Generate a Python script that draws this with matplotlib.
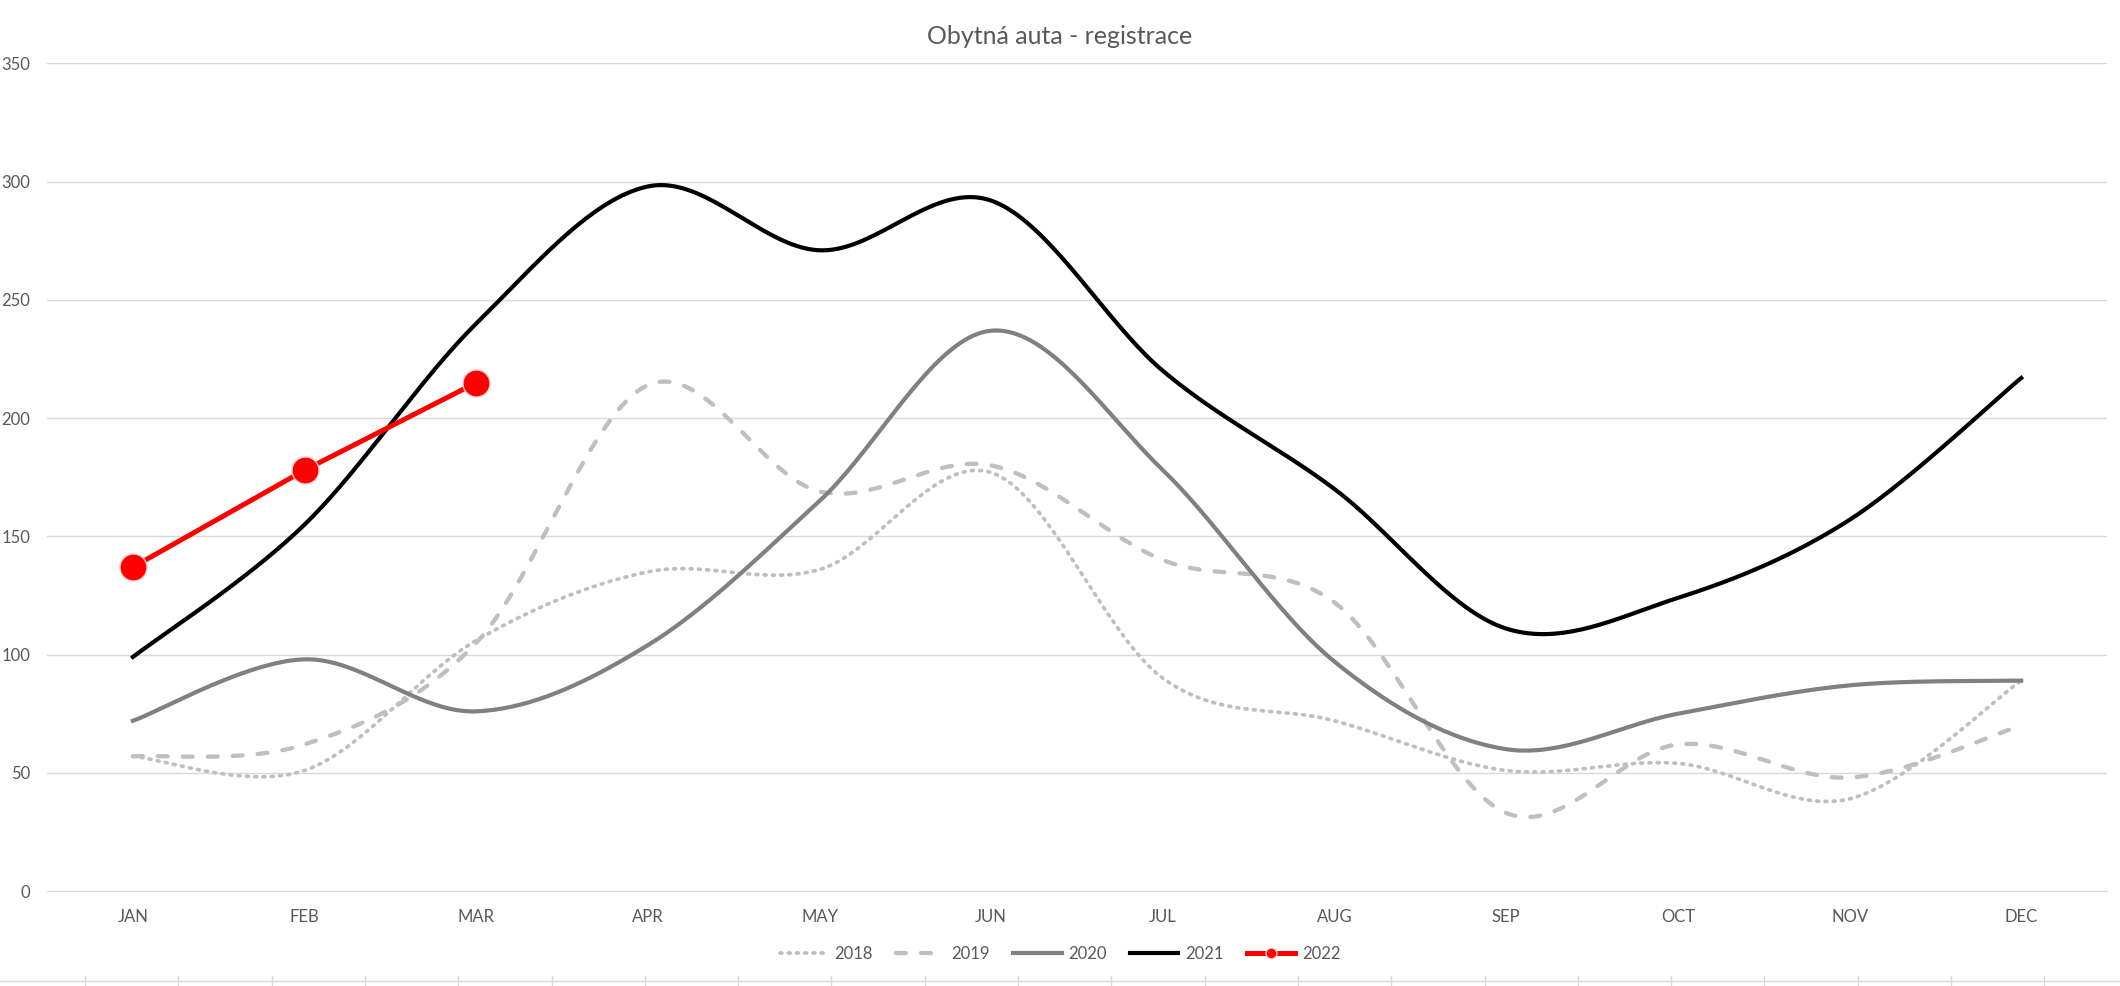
import numpy as np
import matplotlib.pyplot as plt
from matplotlib.lines import Line2D

plt.rcParams['font.family'] = ['Lato', 'DejaVu Sans']

mesice = ["JAN", "FEB", "MAR", "APR", "MAY", "JUN", "JUL", "AUG", "SEP", "OCT", "NOV", "DEC"]
r2018 = [57, 51, 106, 135, 136, 177, 90, 72, 51, 54, 39, 89]
r2019 = [57, 62, 105, 214, 169, 180, 140, 122, 33, 62, 48, 70]
r2020 = [72, 98, 76, 104, 165, 237, 178, 97, 60, 75, 87, 89]
r2021 = [99, 155, 240, 298, 271, 292, 220, 170, 111, 124, 157, 217]
r2022 = [137, 178, 215]


def vyhlad(y):
    # excel-like smoothed line (bezier through points)
    x = np.arange(len(y), dtype=float)
    y = np.asarray(y, dtype=float)
    px = np.concatenate([[x[0]], x, [x[-1]]])
    py = np.concatenate([[y[0]], y, [y[-1]]])
    t = np.linspace(0, 1, 40)[:, None]
    xs, ys = [], []
    for i in range(len(y) - 1):
        p0 = np.array([px[i + 1], py[i + 1]])
        p3 = np.array([px[i + 2], py[i + 2]])
        c1 = p0 + (p3 - np.array([px[i], py[i]])) / 6
        c2 = p3 - (np.array([px[i + 3], py[i + 3]]) - p0) / 6
        b = (1 - t) ** 3 * p0 + 3 * (1 - t) ** 2 * t * c1 + 3 * (1 - t) * t ** 2 * c2 + t ** 3 * p3
        xs.append(b[:, 0]); ys.append(b[:, 1])
    return np.concatenate(xs), np.concatenate(ys)


fig = plt.figure(figsize=(21.2, 9.86), dpi=100)
ax = fig.add_axes([0.0222, 0.0963, 0.9717, 0.8393])

x, y = vyhlad(r2018)
ax.plot(x, y, color="#bfbfbf", lw=2.7, ls=(0, (0.5, 1.7)), dash_capstyle="round", label="2018")
x, y = vyhlad(r2019)
ax.plot(x, y, color="#bfbfbf", lw=3.1, ls=(0, (2.3, 3.5)), dash_capstyle="round", label="2019")
x, y = vyhlad(r2020)
ax.plot(x, y, color="#808080", lw=3, label="2020")
x, y = vyhlad(r2021)
ax.plot(x, y, color="#000000", lw=3, label="2021")
ax.plot(np.arange(len(r2022)), r2022, color="#ff0000", lw=3.6, marker="o", ms=19.5,
        mfc="#ff0000", mec="#ffd0d0", mew=1, label="2022")

ax.set_xlim(-0.5, 11.5)
ax.set_ylim(0, 350)
ax.set_yticks(np.arange(0, 351, 50))
ax.set_xticks(np.arange(12))
ax.set_xticklabels(mesice)
ax.grid(axis="y", color="#d9d9d9", lw=1)
ax.set_axisbelow(True)
for s in ["top", "right", "left"]:
    ax.spines[s].set_visible(False)
ax.spines["bottom"].set_color("#d9d9d9")
ax.tick_params(length=0, labelsize=12, labelcolor="#595959")
ax.tick_params(axis="y", pad=12)
ax.tick_params(axis="x", pad=13)

fig.suptitle("Obytná auta - registrace", y=0.975, fontsize=18, color="#595959")
ax.legend(loc="center", bbox_to_anchor=(0.5, 1 - 954 / 986), bbox_transform=fig.transFigure,
          ncol=5, frameon=False, fontsize=12, handlelength=2.9, handletextpad=0.4,
          columnspacing=1.4, markerscale=0.4, labelcolor="#595959")

# spodni okraj listu
fig.add_artist(Line2D([0, 1], [1 - 981 / 986] * 2, color="#d9d9d9", lw=1))
for xp in np.arange(85, 2120, 93.3):
    fig.add_artist(Line2D([xp / 2120] * 2, [0, 1 - 976 / 986], color="#d9d9d9", lw=1))

fig.savefig("out.png", dpi=100, facecolor="white")
